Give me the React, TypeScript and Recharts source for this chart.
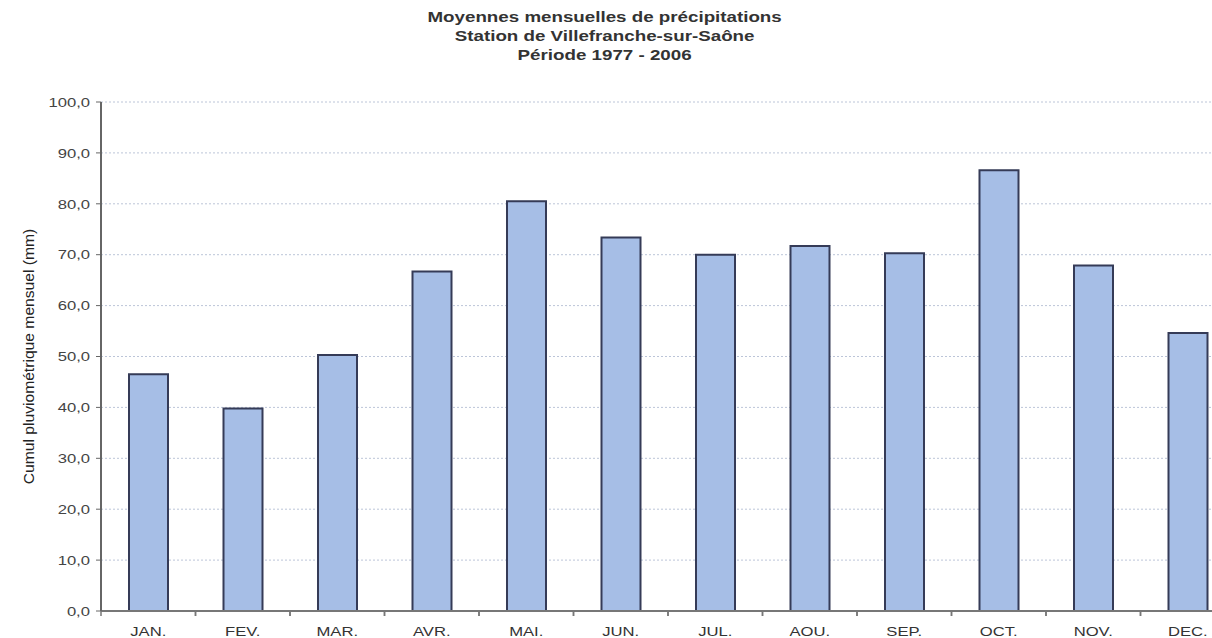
import React from "react";
import { BarChart, Bar, XAxis, YAxis, CartesianGrid } from "recharts";

const months = ["JAN.", "FEV.", "MAR.", "AVR.", "MAI.", "JUN.", "JUL.", "AOU.", "SEP.", "OCT.", "NOV.", "DEC."];
const rainfall = [46.5, 39.8, 50.3, 66.7, 80.5, 73.4, 70.0, 71.7, 70.3, 86.6, 67.9, 54.6];
const yTicks = [0, 10, 20, 30, 40, 50, 60, 70, 80, 90, 100];
const titleLines = [
  "Moyennes mensuelles de précipitations",
  "Station de Villefranche-sur-Saône",
  "Période 1977 - 2006",
];
const yLabel = "Cumul pluviométrique mensuel (mm)";

const data = months.map((m, i) => ({ month: m, value: rainfall[i] }));

const CHART_W = 1260;
const CHART_H = 638;
const MARGIN = { top: 102, right: 25, bottom: 0, left: 0 };
const Y_W = 101;
const X_H = 27;
const PLOT_W = CHART_W - MARGIN.left - MARGIN.right - Y_W;
const BAND = PLOT_W / months.length;
const STRETCH = 1.28;

const FONT = "'Liberation Sans', Arial, sans-serif";

const XTick = (props: any) => {
  const { x, y, payload } = props;
  const axisY = y - 8;
  return (
    <g>
      <line x1={x - BAND / 2} x2={x - BAND / 2} y1={axisY} y2={axisY + 5} stroke="#777" strokeWidth={1.5} />
      <line x1={x + BAND / 2} x2={x + BAND / 2} y1={axisY} y2={axisY + 5} stroke="#777" strokeWidth={1.5} />
      <text transform={`translate(${x}, ${axisY + 25}) scale(${STRETCH}, 1)`} textAnchor="middle" fontSize={13} fill="#333" fontFamily={FONT}>
        {payload.value}
      </text>
    </g>
  );
};

const YTick = (props: any) => {
  const { x, y, payload } = props;
  return (
    <text transform={`translate(${x}, ${y}) scale(${STRETCH}, 1)`} textAnchor="end" dominantBaseline="central" fontSize={13} fill="#444" fontFamily={FONT}>
      {payload.value.toFixed(1).replace(".", ",")}
    </text>
  );
};

const YLabel = () => {
  const cx = 29;
  const cy = (MARGIN.top + (CHART_H - X_H)) / 2;
  return (
    <text transform={`translate(${cx}, ${cy}) rotate(-90) scale(1.08, 1)`} textAnchor="middle" dominantBaseline="central" fontSize={14.5} fill="#222" fontFamily={FONT}>
      {yLabel}
    </text>
  );
};

export default function App() {
  return (
    <div style={{ position: "absolute", left: 0, top: 0, width: 1212, height: 638, overflow: "hidden", background: "#fff" }}>
      <div style={{ position: "absolute", left: 0, top: 7, width: 1209, textAlign: "center", fontFamily: FONT, fontWeight: "bold", fontSize: 15, lineHeight: "19px", color: "#333", transform: `scaleX(${1.25})`, transformOrigin: "604px 0" }}>
        {titleLines.map((t) => (
          <div key={t}>{t}</div>
        ))}
      </div>
      <div style={{ position: "absolute", left: 0, top: 0 }}>
        <BarChart width={CHART_W} height={CHART_H} data={data} margin={MARGIN} barSize={39}>
          <CartesianGrid vertical={false} stroke="#bcc5d8" strokeDasharray="2 2" />
          <XAxis dataKey="month" height={X_H} tickLine={false} axisLine={{ stroke: "#777", strokeWidth: 2 }} tick={<XTick />} interval={0} />
          <YAxis
            width={Y_W}
            domain={[0, 100]}
            ticks={yTicks}
            interval={0}
            tick={<YTick />}
            tickSize={5}
            tickMargin={6}
            tickLine={{ stroke: "#666" }}
            axisLine={{ stroke: "#666", strokeWidth: 2 }}
            label={<YLabel />}
          />
          <Bar dataKey="value" fill="#a6bee6" stroke="#353b57" strokeWidth={2} isAnimationActive={false} />
        </BarChart>
      </div>
    </div>
  );
}
